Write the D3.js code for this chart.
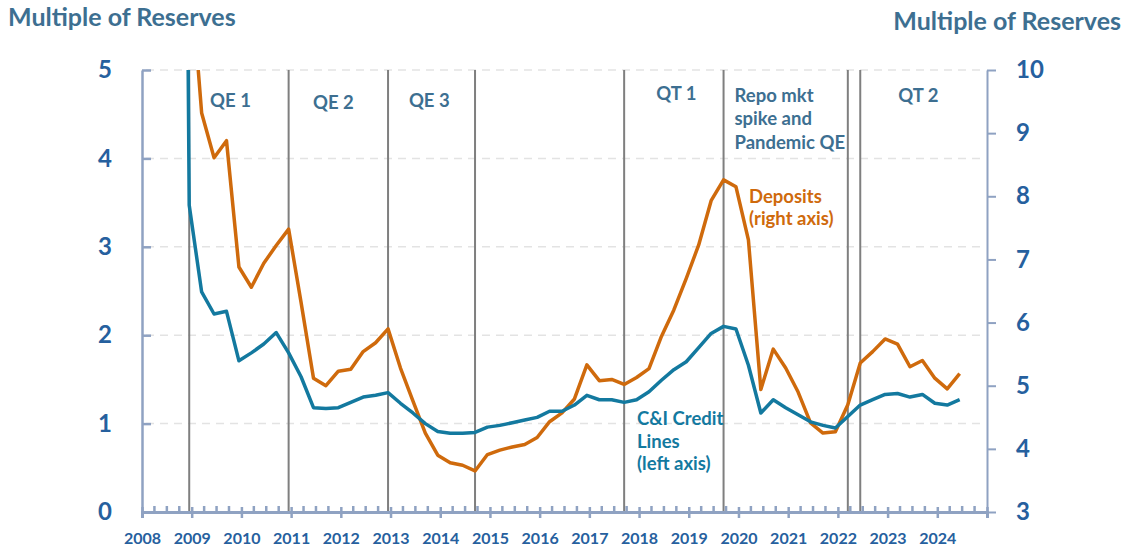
<!DOCTYPE html>
<html>
<head>
<meta charset="utf-8">
<script src="https://cdn.jsdelivr.net/npm/d3@7"></script>
<style>
  body { margin: 0; background: #fff; }
  svg text { font-family: Lato, "Open Sans", sans-serif; font-weight: bold; }
</style>
</head>
<body>
<div class="interactive"></div>
<script>
var width = 1127;
var height = 548;

// quarter-end observations
var quarters = [
  "2008Q3","2008Q4",
  "2009Q1","2009Q2","2009Q3","2009Q4",
  "2010Q1","2010Q2","2010Q3","2010Q4",
  "2011Q1","2011Q2","2011Q3","2011Q4",
  "2012Q1","2012Q2","2012Q3","2012Q4",
  "2013Q1","2013Q2","2013Q3","2013Q4",
  "2014Q1","2014Q2","2014Q3","2014Q4",
  "2015Q1","2015Q2","2015Q3","2015Q4",
  "2016Q1","2016Q2","2016Q3","2016Q4",
  "2017Q1","2017Q2","2017Q3","2017Q4",
  "2018Q1","2018Q2","2018Q3","2018Q4",
  "2019Q1","2019Q2","2019Q3","2019Q4",
  "2020Q1","2020Q2","2020Q3","2020Q4",
  "2021Q1","2021Q2","2021Q3","2021Q4",
  "2022Q1","2022Q2","2022Q3","2022Q4",
  "2023Q1","2023Q2","2023Q3","2023Q4",
  "2024Q1","2024Q2"
];

// C&I credit lines / reserves (left axis)
var creditLines = [
  22, 3.47,
  2.49, 2.24, 2.27, 1.71,
  1.80, 1.90, 2.03, 1.80,
  1.53, 1.18, 1.17, 1.18,
  1.24, 1.30, 1.32, 1.35,
  1.23, 1.12, 1.00, 0.91,
  0.89, 0.89, 0.90, 0.96,
  0.98, 1.01, 1.04, 1.07,
  1.14, 1.14, 1.21, 1.32,
  1.27, 1.27, 1.24, 1.27,
  1.36, 1.49, 1.61, 1.70,
  1.86, 2.02, 2.10, 2.07,
  1.66, 1.12, 1.27, 1.18,
  1.10, 1.02, 0.98, 0.95,
  1.08, 1.21, 1.27, 1.33,
  1.34, 1.30, 1.33, 1.23,
  1.21, 1.27
];

// Deposits / reserves (right axis)
var deposits = [
  null, 11.8,
  9.32, 8.61, 8.88, 6.88,
  6.56, 6.94, 7.22, 7.48,
  6.32, 5.12, 5.00, 5.23,
  5.26, 5.54, 5.68, 5.90,
  5.28, 4.76, 4.25, 3.90,
  3.78, 3.74, 3.65, 3.91,
  3.98, 4.03, 4.07, 4.18,
  4.43, 4.57, 4.79, 5.33,
  5.08, 5.10, 5.02, 5.13,
  5.27, 5.78, 6.20, 6.70,
  7.23, 7.93, 8.26, 8.15,
  7.31, 4.94, 5.58, 5.28,
  4.90, 4.41, 4.25, 4.27,
  4.70, 5.36, 5.54, 5.74,
  5.66, 5.30, 5.40, 5.12,
  4.95, 5.19
];

var years = d3.range(2008, 2026);
var leftTicks = [0, 1, 2, 3, 4, 5];
var rightTicks = [3, 4, 5, 6, 7, 8, 9, 10];

// regime boundaries
var breaks = ["2008Q4", "2010Q4", "2012Q4", "2014Q3", "2017Q3", "2019Q3", "2022Q1", "2022Q2"];
var periods = [
  { q: 2009.78, lines: ["QE 1"], anchor: "middle", y: 107 },
  { q: 2011.85, lines: ["QE 2"], anchor: "middle", y: 109 },
  { q: 2013.78, lines: ["QE 3"], anchor: "middle", y: 106.5 },
  { q: 2018.75, lines: ["QT 1"], anchor: "middle", y: 100 },
  { q: 2019.92, lines: ["Repo mkt", "spike and", "Pandemic QE"], anchor: "start", y: 101.5 },
  { q: 2023.62, lines: ["QT 2"], anchor: "middle", y: 101.5 }
];

function qTime(s) {
  return +s.slice(0, 4) + (+s.slice(5)) * 0.25 - 0.05;
}

var x = d3.scaleLinear().domain([2008, 2025]).range([142, 987]);
var yL = d3.scaleLinear().domain([0, 5]).range([512, 70]);
var yR = d3.scaleLinear().domain([3, 10]).range([512, 70]);

var axisColor = "#8fa2c2";
var tickText = "#26609e";
var labelColor = "#3d6f91";
var blue = "#13799f";
var orange = "#cf6a0c";

var svg = d3.select(".interactive")
  .append("svg")
  .attr("width", width)
  .attr("height", height);

svg.append("defs").append("clipPath").attr("id", "plot")
  .append("rect").attr("x", 142).attr("y", 70).attr("width", 845).attr("height", 442);

// dashed gridlines
svg.append("g").selectAll("line")
  .data(leftTicks.slice(1))
  .enter().append("line")
  .attr("x1", 146).attr("x2", 985)
  .attr("y1", d => yL(d)).attr("y2", d => yL(d))
  .attr("stroke", "#e3e3e3")
  .attr("stroke-width", 1.5)
  .attr("stroke-dasharray", "8,6");

// vertical regime lines
svg.append("g").selectAll("line")
  .data(breaks)
  .enter().append("line")
  .attr("x1", d => x(qTime(d))).attr("x2", d => x(qTime(d)))
  .attr("y1", 70).attr("y2", 512)
  .attr("stroke", "#7f7f7f")
  .attr("stroke-width", 2);

// minor quarter ticks
var minor = [];
years.slice(0, -1).forEach(function (yr) { minor.push(yr + 0.25, yr + 0.5, yr + 0.75); });
svg.append("g").selectAll("line")
  .data(minor)
  .enter().append("line")
  .attr("x1", d => x(d)).attr("x2", d => x(d))
  .attr("y1", 506).attr("y2", 511)
  .attr("stroke", axisColor)
  .attr("stroke-width", 2.5);

// x axis
var gx = svg.append("g")
  .attr("transform", "translate(0,512)")
  .call(d3.axisBottom(x)
    .tickValues(years)
    .tickFormat(d => d < 2025 ? d : "")
    .tickSizeOuter(0)
    .tickSize(6)
    .tickPadding(14.5));
gx.select(".domain").attr("stroke", axisColor).attr("stroke-width", 3);
gx.selectAll(".tick line").attr("stroke", axisColor).attr("stroke-width", 2.5).attr("y1", -5);
gx.selectAll(".tick text").attr("fill", tickText).style("font-size", "16px");

// left axis
var gl = svg.append("g")
  .attr("transform", "translate(142,0)")
  .call(d3.axisLeft(yL).tickValues(leftTicks).tickFormat(d3.format("d"))
    .tickSize(-9).tickSizeOuter(0).tickPadding(30));
gl.select(".domain").attr("stroke", axisColor).attr("stroke-width", 2.5);
gl.selectAll(".tick line").attr("stroke", axisColor).attr("stroke-width", 2.5);
gl.selectAll(".tick text").attr("fill", tickText).style("font-size", "24px");

// right axis
var gr = svg.append("g")
  .attr("transform", "translate(987,0)")
  .call(d3.axisRight(yR).tickValues(rightTicks).tickFormat(d3.format("d"))
    .tickSize(9).tickSizeOuter(0).tickPadding(20));
gr.select(".domain").attr("stroke", axisColor).attr("stroke-width", 2);
gr.selectAll(".tick line").attr("stroke", axisColor).attr("stroke-width", 2);
gr.selectAll(".tick text").attr("fill", tickText).style("font-size", "24px");

// series
var lineL = d3.line()
  .defined(d => d[1] != null)
  .x(d => x(qTime(d[0])))
  .y(d => yL(d[1]));
var lineR = d3.line()
  .defined(d => d[1] != null)
  .x(d => x(qTime(d[0])))
  .y(d => yR(d[1]));

var lines = svg.append("g").attr("clip-path", "url(#plot)");
lines.append("path")
  .attr("d", lineR(d3.zip(quarters, deposits)))
  .attr("fill", "none")
  .attr("stroke", orange)
  .attr("stroke-width", 3.5)
  .attr("stroke-linejoin", "round");
lines.append("path")
  .attr("d", lineL(d3.zip(quarters, creditLines)))
  .attr("fill", "none")
  .attr("stroke", blue)
  .attr("stroke-width", 3.5)
  .attr("stroke-linejoin", "round");

// period labels
periods.forEach(function (p) {
  var t = svg.append("text")
    .attr("x", x(p.q))
    .attr("y", p.y)
    .attr("text-anchor", p.anchor)
    .attr("fill", labelColor)
    .style("font-size", "18.5px");
  p.lines.forEach(function (s, i) {
    t.append("tspan").attr("x", x(p.q)).attr("y", p.y + i * 23.5).text(s);
  });
});

// series labels
var dep = svg.append("text").attr("fill", orange).style("font-size", "18.5px");
dep.append("tspan").attr("x", 749).attr("y", 202.5).text("Deposits");
dep.append("tspan").attr("x", 749).attr("y", 225).text("(right axis)");

var cil = svg.append("text").attr("fill", blue).style("font-size", "18.5px");
cil.append("tspan").attr("x", 637).attr("y", 425).text("C&I Credit");
cil.append("tspan").attr("x", 637).attr("y", 447.5).text("Lines");
cil.append("tspan").attr("x", 637).attr("y", 470).text("(left axis)");

// axis titles
svg.append("text")
  .attr("x", 8).attr("y", 26)
  .attr("fill", labelColor)
  .style("font-size", "25px")
  .text("Multiple of Reserves");
svg.append("text")
  .attr("x", 1121).attr("y", 29.5)
  .attr("text-anchor", "end")
  .attr("fill", labelColor)
  .style("font-size", "25px")
  .text("Multiple of Reserves");
</script>
</body>
</html>
